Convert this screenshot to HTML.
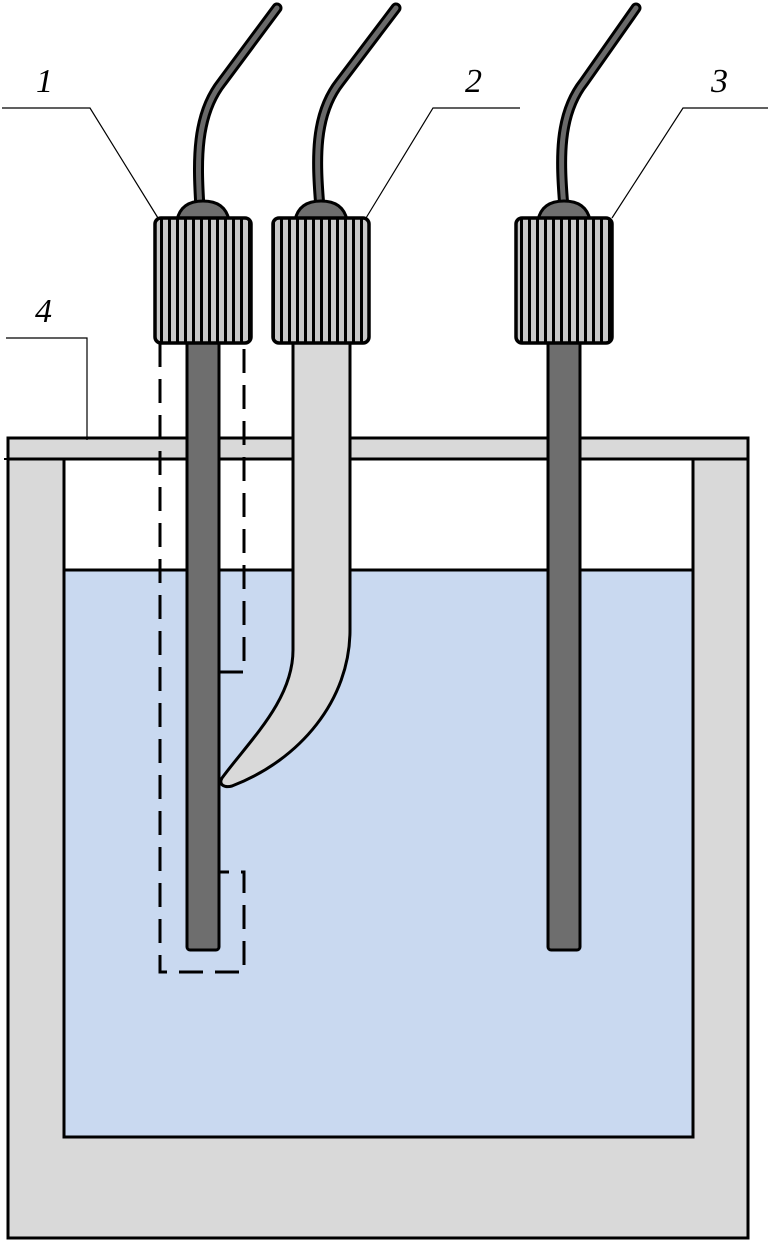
<!DOCTYPE html>
<html><head><meta charset="utf-8"><style>html,body{margin:0;padding:0;background:#fff}svg{display:block}</style></head>
<body>
<svg width="770" height="1243" viewBox="0 0 770 1243" xmlns="http://www.w3.org/2000/svg">
<defs>
<pattern id="st" x="0" y="0" width="8" height="10" patternUnits="userSpaceOnUse">
<rect width="8" height="10" fill="#c8c8c8"/><rect x="0" width="3" height="10" fill="#000"/>
</pattern>
</defs>
<rect x="8" y="438" width="740" height="800" fill="#d9d9d9" stroke="#000" stroke-width="3"/>
<rect x="64" y="459" width="629" height="678" fill="#fff" stroke="#000" stroke-width="3"/>
<rect x="64" y="570" width="629" height="567" fill="#c9d9f0" stroke="#000" stroke-width="3"/>
<rect x="8" y="438" width="740" height="21" fill="#d9d9d9" stroke="#000" stroke-width="3"/>
<line x1="4" y1="459" x2="10" y2="459" stroke="#000" stroke-width="2"/>
<g stroke="#000" stroke-width="1.2" fill="none">
<polyline points="2,108 90,108 158,218"/>
<polyline points="520,108 433,108 366,218"/>
<polyline points="768,108 683,108 612,218"/>
<polyline points="6,338 87,338 87,440"/>
</g>
<g font-family="Liberation Serif, serif" font-style="italic" font-size="34">
<text x="36" y="92">1</text><text x="465" y="92">2</text><text x="711" y="92">3</text><text x="35" y="322">4</text>
</g>
<path d="M160,343 V972 H244 V872 H219 M219,672 H244 V343" fill="none" stroke="#000" stroke-width="3" stroke-dasharray="24,12"/>
<rect x="187" y="340" width="32" height="610" rx="3" fill="#6e6e6e" stroke="#000" stroke-width="3"/>
<rect x="548" y="340" width="32" height="610" rx="3" fill="#6e6e6e" stroke="#000" stroke-width="3"/>
<path d="M293,340 V650 C293,700 250,740 222,778 C218,785 225,788 232,786 C300,760 350,700 350,630 V340 Z" fill="#d9d9d9" stroke="#000" stroke-width="3"/>
<g fill="none" stroke-linecap="round">
<path d="M200,208 C197,160 196,115 222,82 L277,8" stroke="#000" stroke-width="11"/>
<path d="M200,208 C197,160 196,115 222,82 L277,8" stroke="#6a6a6a" stroke-width="5"/>
<path d="M320,208 C316,160 314,115 340,82 L396,8" stroke="#000" stroke-width="11"/>
<path d="M320,208 C316,160 314,115 340,82 L396,8" stroke="#6a6a6a" stroke-width="5"/>
<path d="M564,208 C560,160 558,115 584,82 L636,8" stroke="#000" stroke-width="11"/>
<path d="M564,208 C560,160 558,115 584,82 L636,8" stroke="#6a6a6a" stroke-width="5"/>
</g>
<g fill="#6e6e6e" stroke="#000" stroke-width="3">
<path d="M177,220 C180,206 190,201 203,201 C216,201 226,206 229,220 Z"/>
<path d="M295,220 C298,206 308,201 321,201 C334,201 344,206 347,220 Z"/>
<path d="M538,220 C541,206 551,201 564,201 C577,201 587,206 590,220 Z"/>
</g>
<g stroke="#000" stroke-width="3.5">
<rect x="155" y="218" width="96" height="125" rx="6" fill="url(#st)"/>
<rect x="273" y="218" width="96" height="125" rx="6" fill="url(#st)"/>
<rect x="516" y="218" width="96" height="125" rx="6" fill="url(#st)"/>
</g>
</svg>
</body></html>
